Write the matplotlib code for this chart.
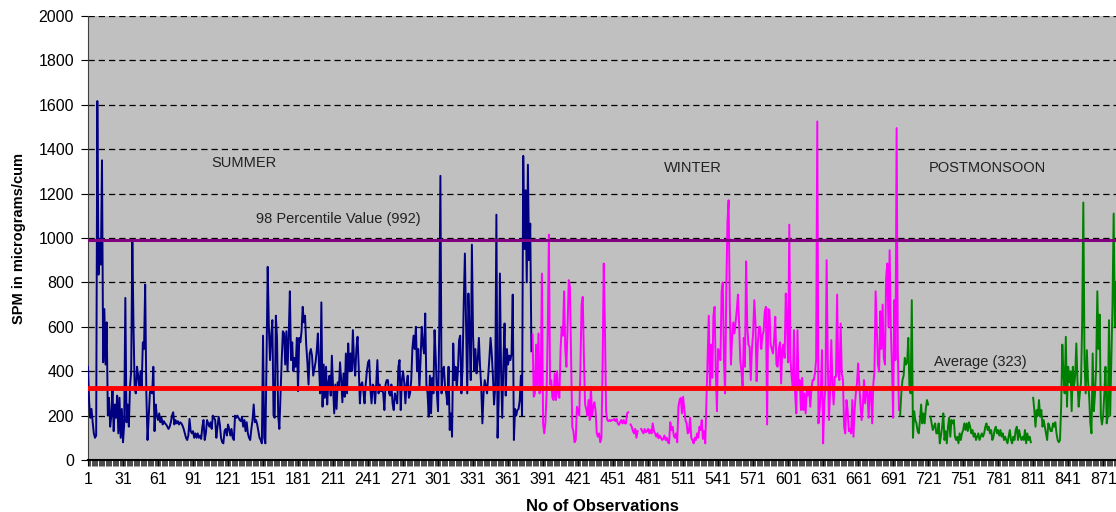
import numpy as np
import matplotlib
matplotlib.use("Agg")
import matplotlib.pyplot as plt

nan = np.nan

# SPM readings (obs 1-381 summer, 382-696 winter, 697-882 postmonsoon)
summer = [
    420, 260, 190, 230, 170, 120, 100, 110, 1617, 835, 980, 880, 1350, 440, 680, 430, 620,
    200, 280, 150, 200, 320, 130, 250, 190, 290, 120, 280, 100, 230, 80, 160,
    730, 170, 250, 150, 330, 400, 990, 600, 320, 300, 420, 380, 320, 400, 330, 530, 500, 790,
    300, 90, 190, 300, 330, 300, 420, 130, 250,
    200, 180, 210, 170, 190, 160, 175, 165, 160, 150,
    140, 150, 170, 200, 215, 160, 180, 165, 175, 160,
    170, 165, 155, 140, 120, 100, 90, 110, 185, 130,
    120, 130, 100, 120, 100, 120, 100, 110, 95, 150,
    180, 90, 120, 180, 165, 150, 170, 140, 200, 190,
    180, 100, 150, 195, 160, 100, 80, 75, 130, 140,
    110, 160, 140, 110, 140, 100, 90, 200, 190, 200,
    190, 180, 175, 195, 150, 180, 130, 170, 120, 100,
    90, 140, 180, 250, 170, 180, 160, 130, 100, 90, 75,
    560, 100, 75, 450, 870, 600, 450, 560, 630, 200,
    190, 650, 550, 200, 140, 300, 450, 580, 570, 430,
    580, 400, 560, 760, 450, 530, 400, 460, 420, 550,
    310, 550, 530, 580, 690, 620, 650, 520, 440, 340,
    480, 500, 470, 380, 410, 440, 490, 570, 420, 300,
    710, 240, 430, 280, 420, 250, 350, 380, 290, 470,
    330, 210, 340, 230, 350, 320, 440, 360, 260, 390,
    285, 480, 300, 525, 400, 480, 400, 585, 440, 380,
    500, 555, 420, 255, 340, 350, 310, 255, 340, 400,
    440, 450, 320, 255, 340, 330, 255, 340, 450, 300,
    340, 310, 320, 300, 225, 340, 360, 360, 300, 290,
    340, 255, 225, 300, 280, 255, 420, 450, 225, 360,
    400, 350, 255, 340, 380, 280, 300, 360, 500, 560,
    500, 600, 400, 500, 320, 450, 600, 520, 480, 660,
    340, 300, 195, 380, 210, 370, 300, 585, 460, 300,
    220, 580, 1280, 300, 400, 420, 330, 300, 250, 420,
    135, 210, 105, 525, 360, 420, 320, 400, 540, 560,
    300, 420, 705, 930, 620, 300, 750, 580, 360, 970,
    560, 400, 500, 390, 450, 550,
    420, 330, 165, 300, 360, 330, 300, 380, 460, 550,
    480, 380, 250, 330, 1105, 100, 280, 840, 400, 190,
    440, 615, 290, 500, 430, 470, 450, 480, 745, 90,
    230, 200, 225, 230, 270, 380, 200, 1370, 950, 1215,
    800, 1330, 900, 1065, 490,
]

winter = [
    565, 285, 300, 520, 320, 570, 300, 340, 840, 165,
    120, 170, 300, 585, 1015, 340, 360, 280, 270, 390,
    270, 400, 300, 280, 500, 600, 560, 760, 500, 420,
    600, 810, 780, 450, 150, 130, 80, 90, 240, 220,
    200, 420, 700, 735, 460, 250, 230, 200, 270, 180,
    330, 200, 240, 260, 220, 120, 105, 120, 80, 100,
    420, 885,
    600, 220, 180, 175, 180, 175, 180, 180, 185, 175,
    185, 165, 158, 170, 180, 165, 180, 165, 165, 210,
    215, nan, 160, 150, 130, 120, 140, 100, 130, nan,
    nan, 140, 130, 120, 140, 125, 130, 140, 120, 135,
    120, 165, 130, 120, 105, 120, 98, 110, 100, 90,
    95, 110, 90, 100, 80, 75, 170, 135, 150, 110,
    100, 120, 80, 240, 270, 280, 210, 285, 230, 180,
    165, 120, 130, 190, 100, 90, 75, 100, 90, 120,
    100, 150, 135, 180, 95, 130, 75, 270, 460, 650,
    320, 520, 370, 650, 690, 400, 220, 500, 480, 450,
    760, 800, 450, 300, 760, 1070, 1170, 700, 430, 550,
    620, 570,
    620, 675, 745, 615, 450, 400, 330, 550, 420, 895,
    600, 520, 510, 360, 500, 570, 720, 620, 355, 520,
    600, 600, 500, 560, 580, 670, 690, 160, 680, 675,
    520, 500, 480, 540, 645, 430, 420, 500, 530, 345,
    500, 520, 460, 750, 620, 440, 1060, 450, 375, 330,
    585, 300, 210, 585, 315, 360, 225, 370, 225, 300,
    210, 315, 290, 330, 240, 320, 360, 360, 390, 450,
    1525, 165, 225, 300, 495, 75, 255, 330, 900, 450,
    180, 315, 540, 345, 250, 375, 375, 745, 390, 360,
    615, 390, 360, 150, 120, 270, 225, 130, 140, 120,
    270, 105, 225, 300, 345, 435, 345, 250, 180, 240,
    360,
    255, 330, 300, 190, 330, 315, 165, 340, 400, 760,
    600, 430, 400, 670, 500, 700, 460, 430, 820, 885,
    600, 945, 600, 420, 190, 720, 450, 1495, 500, 225,
]

postmonsoon = [
    200, 300, 360, 380, 460, 430, 440, 550, 320, 300,
    720, 100, 220, 180, 165, 130, 120, 180, 250, 165,
    210, 165, 230, 270, 250, nan,
    195, 165, 135, 150, 165, 120, 120, 165, 75, 110,
    150, 210, 90, 130, 75, 150, 190, 105, 180, 165,
    180, 105, 90, 105, 75, 120, 90, 120, 135, 165,
    135, 165, 130, 170, 150, 120, 135, 105, 120, 90,
    105, 120, 90, 105, 120, 105, 120, 150, 165, 135,
    150, 120, 135, 90, 105,
    135, 150, 120, 135, 110, 135, 105, 120, 90, 105,
    90, 75, 105, 135, 90, 75, 105, 90, 135, 150,
    90, 135, 105, 90, 105, 90, 135, 75, 120, 90,
    105, 80, nan,
    280, 225, 150, 225, 200, 270, 195, 225, 150, 180,
    150, 120, 90, 165, 150, 130, 130, 165, 150, 170,
    120, 90, 80, 90, 240, 520, 380, 300, 555, 240,
    420, 350, 400, 220, 420, 330, 380, 525, 350, 240,
    300, 350, 615, 1160, 450, 300, 495, 360, 285, 165,
    120, 480, 220, 300, 420, 760, 500, 655, 200, 160,
    200, 300, 420, 165, 200, 630, 200, 450, 700, 1110,
    600, 800,
]

percentile98 = 992
average = 323
tick_labels = list(range(1, 872, 30))

plt.rcParams['font.family'] = ['Liberation Sans', 'DejaVu Sans']

fig = plt.figure(figsize=(11.16, 5.12), dpi=100)
ax = fig.add_axes([88 / 1116, 1 - 460 / 512, 1 - 88 / 1116, (460 - 16) / 512])
ax.set_facecolor('#C0C0C0')

x_summer = np.arange(1, len(summer) + 1)
x_winter = np.arange(len(summer) + 1, len(summer) + len(winter) + 1)
x_post = np.arange(len(summer) + len(winter) + 1,
                   len(summer) + len(winter) + len(postmonsoon) + 1)
n_total = len(summer) + len(winter) + len(postmonsoon)

for y in range(200, 2001, 200):
    ax.axhline(y, color='black', lw=0.9, dashes=(5, 3.2), zorder=1)

ax.plot(x_summer, summer, color='#000080', lw=1.4, zorder=3)
ax.plot(x_winter, winter, color='#FF00FF', lw=1.4, zorder=3)
ax.plot(x_post, postmonsoon, color='#008000', lw=1.4, zorder=3)

ax.axhline(percentile98, color='#800080', lw=2.2, zorder=4)
ax.axhline(average, color='#FF0000', lw=3.5, zorder=4)

txt = dict(fontsize=10.5, va='center', color='#222222')
ax.text(135, 1338, 'SUMMER', ha='center', **txt)
ax.text(519, 1315, 'WINTER', ha='center', **txt)
ax.text(772, 1315, 'POSTMONSOON', ha='center', **txt)
ax.text(145, 1086, '98 Percentile Value (992)', ha='left', **txt)
ax.text(726, 441, 'Average (323)', ha='left', **txt)

ax.set_xlim(1, n_total)
ax.set_ylim(0, 2000)
ax.set_yticks(range(0, 2001, 200))
ax.set_xticks(tick_labels)
ax.set_xticks(np.arange(1, n_total + 1), minor=True)
ax.tick_params(axis='x', which='major', length=4, labelsize=11.5, pad=5)
ax.tick_params(axis='x', which='minor', length=4, width=0.5)
ax.tick_params(axis='y', length=5, labelsize=11.5, pad=5)

for side in ['top', 'right']:
    ax.spines[side].set_visible(False)
ax.spines['left'].set_color('#404040')
ax.spines['bottom'].set_linewidth(1.5)

ax.set_xlabel('No of Observations', fontsize=12, fontweight='bold', labelpad=8)
ax.set_ylabel('SPM in micrograms/cum', fontsize=10.5, fontweight='bold', labelpad=9)

fig.savefig('out.png', dpi=100)
